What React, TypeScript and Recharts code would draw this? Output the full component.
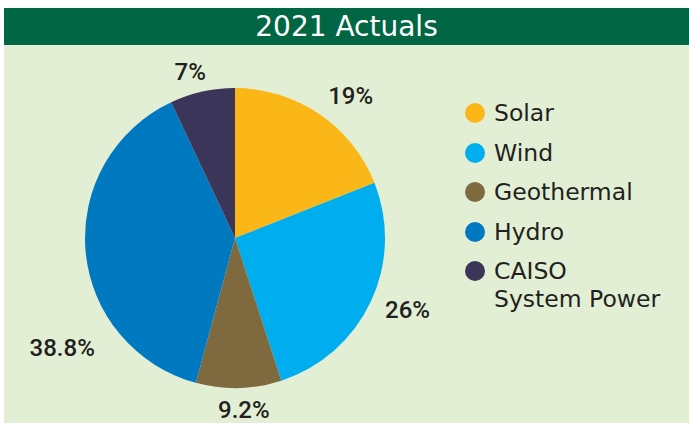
import { PieChart, Pie, Cell, Legend } from 'recharts'

const categories = ['Solar', 'Wind', 'Geothermal', 'Hydro', 'CAISO System Power']
const shares = [19, 26, 9.2, 38.8, 7]
const shareLabels = ['19%', '26%', '9.2%', '38.8%', '7%']

const COLORS = ['#fbb718', '#00aeef', '#7f6a3f', '#0079c1', '#3b3559']
// small per-slice nudges for the outside labels (angle deg, extra radius)
const LABEL_NUDGE = [
  { da: -5, dr: 33 },
  { da: 2.5, dr: 37 },
  { da: 1.5, dr: 22 },
  { da: 27.5, dr: 55 },
  { da: 2.5, dr: 22 }
]

const data = categories.map((name, i) => ({ name, value: shares[i], label: shareLabels[i] }))

const FONT = '"DejaVu Sans", sans-serif'
const RAD = Math.PI / 180

function renderLabel(props: any) {
  const { cx, cy, midAngle, outerRadius, index } = props
  const n = LABEL_NUDGE[index]
  const a = (midAngle + n.da) * RAD
  const r = outerRadius + n.dr
  const x = cx + r * Math.cos(a)
  const y = cy - r * Math.sin(a)
  return (
    <text x={x} y={y} fill="#231f20" fontSize={24} fontWeight={500} fontFamily='Roboto, sans-serif'
      textAnchor="middle" dominantBaseline="central">
      {data[index].label}
    </text>
  )
}

function renderLegend() {
  return (
    <div style={{ fontFamily: FONT, fontSize: 23.5, color: '#231f20' }}>
      {data.map((d, i) => (
        <div key={d.name} style={{ display: 'flex', alignItems: 'flex-start', height: 39.5 }}>
          <svg width={22} height={22} style={{ marginRight: 8, flexShrink: 0 }}>
            <circle cx={11} cy={11} r={10} fill={COLORS[i]} />
          </svg>
          <div style={{ lineHeight: '28px', marginTop: -3 }}>
            {d.name === 'CAISO System Power' ? (<>CAISO<br />System Power</>) : d.name}
          </div>
        </div>
      ))}
    </div>
  )
}

export default function App() {
  return (
    <div style={{ position: 'absolute', left: 0, top: 0, width: 689, height: 425, background: '#fff' }}>
      <div style={{
        position: 'absolute', left: 4, top: 8, width: 685, height: 37, background: '#006643',
        color: '#fff', fontFamily: FONT, fontSize: 28, textAlign: 'center', lineHeight: '37px'
      }}>2021 Actuals</div>
      <div style={{ position: 'absolute', left: 4, top: 45, width: 685, height: 378, background: '#e2efd5' }}>
        <PieChart width={685} height={378} margin={{ top: 0, right: 0, bottom: 0, left: 0 }}>
          <Pie
            data={data}
            dataKey="value"
            nameKey="name"
            cx={231}
            cy={193}
            outerRadius={150}
            startAngle={90}
            endAngle={-270}
            stroke="none"
            label={renderLabel}
            labelLine={false}
            isAnimationActive={false}
          >
            {data.map((d, i) => (
              <Cell key={d.name} fill={COLORS[i]} />
            ))}
          </Pie>
          <Legend
            content={renderLegend}
            wrapperStyle={{ position: 'absolute', left: 460, top: 57, width: 225 }}
          />
        </PieChart>
      </div>
    </div>
  )
}
